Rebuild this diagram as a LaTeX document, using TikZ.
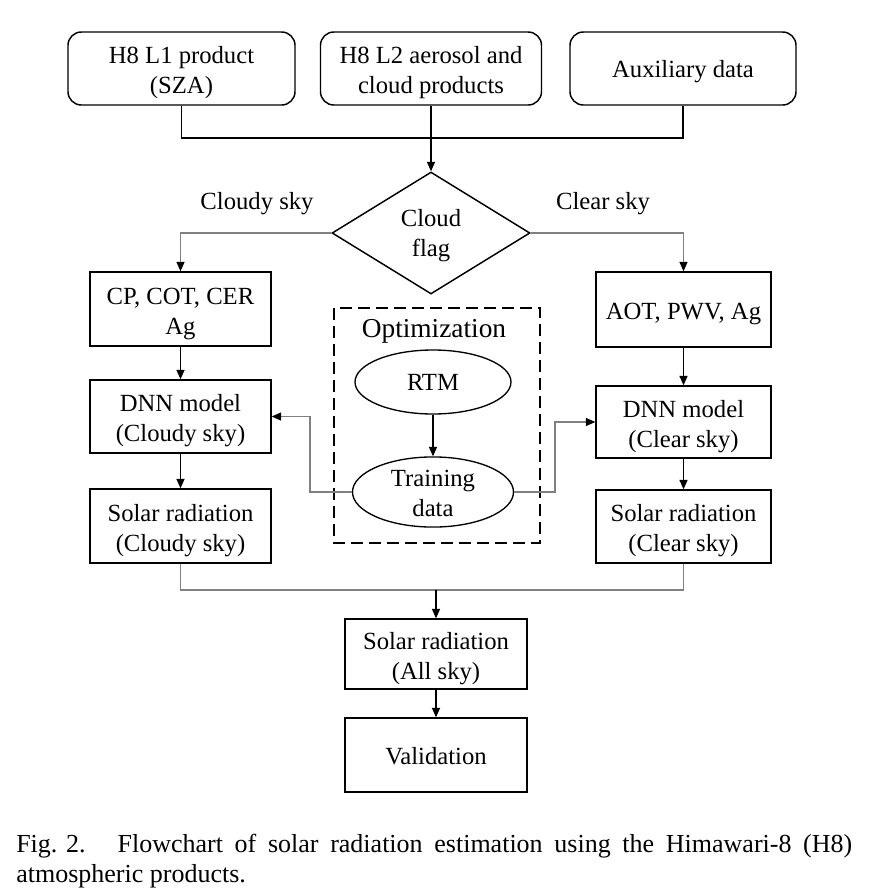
\documentclass[tikz,border=0pt]{standalone}
\usepackage{fontspec}
\setmainfont{Liberation Serif}
\usetikzlibrary{arrows.meta,shapes.geometric}
\newcommand{\boxstrut}{42pt}
\begin{document}
\begin{tikzpicture}[x=0.75pt,y=-0.75pt,
  every node/.style={font=\fontsize{18.5}{22.5}\selectfont, align=center, inner sep=0pt},
  strutht/.code={\renewcommand{\boxstrut}{#1}},
  box/.style={draw, line width=1.1pt, rectangle, execute at begin node={\rule{0pt}{\boxstrut}}},
  rbox/.style={box, rounded corners=10pt},
  ell/.style={draw, line width=1pt, ellipse, execute at begin node={\rule{0pt}{\boxstrut}}},
  conn/.style={line width=0.8pt, black},
  gconn/.style={line width=0.8pt, black!50},
  arr/.style={-{Triangle[length=7pt,width=6pt,color=black]}}
]
\useasboundingbox (0,0) rectangle (886,890);

% top boxes
\node[rbox, minimum width=227*0.75pt, minimum height=73*0.75pt] (b1) at (181.5,68.5) {H8 L1 product\\(SZA)};
\node[rbox, minimum width=221*0.75pt, minimum height=73*0.75pt] (b2) at (431,68.5) {H8 L2 aerosol and\\cloud products};
\node[rbox, strutht=17pt, minimum width=226*0.75pt, minimum height=73*0.75pt] (b3) at (683,68.5) {Auxiliary data};

% decision
\node[draw, line width=1.1pt, diamond, minimum width=198*0.75pt, minimum height=122*0.75pt, execute at begin node={\rule{0pt}{39.5pt}}] (flag) at (431,233) {Cloud\\flag};
\node (lcl) at (257,204) {Cloudy sky};
\node (lcr) at (603,204) {Clear sky};

% left column
\node[box, minimum width=181*0.75pt, minimum height=74*0.75pt] (cp) at (180.5,309) {CP, COT, CER\\Ag};
\node[box, minimum width=181*0.75pt, minimum height=73*0.75pt] (dnnL) at (180.5,416.5) {DNN model\\(Cloudy sky)};
\node[box, minimum width=181*0.75pt, minimum height=74*0.75pt] (solL) at (180.5,526) {Solar radiation\\(Cloudy sky)};

% right column
\node[box, strutht=19.5pt, minimum width=175*0.75pt, minimum height=75*0.75pt] (aot) at (683.5,309.5) {AOT, PWV, Ag};
\node[box, minimum width=175*0.75pt, minimum height=72*0.75pt] (dnnR) at (683.5,422) {DNN model\\(Clear sky)};
\node[box, minimum width=175*0.75pt, minimum height=73*0.75pt] (solR) at (683.5,526.5) {Solar radiation\\(Clear sky)};

% optimization
\draw[line width=1.4pt, dash pattern=on 9pt off 4.5pt] (334,308) rectangle (540,543);
\node[font=\fontsize{20.5}{24}\selectfont] (opt) at (434,331) {Optimization};
\node[ell, strutht=13pt, minimum width=156*0.75pt, minimum height=64*0.75pt] (rtm) at (433,382) {RTM};
\node[ell, strutht=37pt, minimum width=161*0.75pt, minimum height=64*0.75pt] (train) at (433,492) {Training\\data};

% bottom
\node[box, minimum width=182*0.75pt, minimum height=70*0.75pt] (all) at (436,654) {Solar radiation\\(All sky)};
\node[box, strutht=15pt, minimum width=182*0.75pt, minimum height=74*0.75pt] (val) at (436,755) {Validation};

% caption
\node[anchor=base west, font=\fontsize{19.5}{24}\selectfont] (cap1) at (16,852) {\makebox[627pt][s]{\mbox{Fig. 2.}\hspace{24pt}Flowchart of solar radiation estimation using the Himawari-8 (H8)}};
\node[anchor=base west, font=\fontsize{19.5}{24}\selectfont] (cap2) at (16,882) {atmospheric products.};

% connectors
\coordinate (jtop) at (431,138);
\draw[conn] (b1.south) |- (jtop) -| (b3.south);
\draw[conn, arr] (b2.south) -- (flag.north);
\draw[gconn, arr] (flag.west) -| (cp.north);
\draw[gconn, arr] (flag.east) -| (aot.north);
\draw[conn, arr] (cp.south) -- (dnnL.north);
\draw[conn, arr] (dnnL.south) -- (solL.north);
\draw[conn, arr] (aot.south) -- (dnnR.north);
\draw[conn, arr] (dnnR.south) -- (solR.north);
\draw[conn, arr] (rtm.south) -- (train.north);
\coordinate (tl) at (310,492);
\coordinate (tr) at (555,492);
\draw[gconn, arr] (train.west) -- (tl) |- (dnnL.east);
\draw[gconn, arr] (train.east) -- (tr) |- (dnnR.west);
\coordinate (jbot) at (436,590);
\draw[gconn] (solL.south) |- (jbot) -| (solR.south);
\draw[conn, arr] (jbot) -- (all.north);
\draw[conn, arr] (all.south) -- (val.north);
\end{tikzpicture}
\end{document}
